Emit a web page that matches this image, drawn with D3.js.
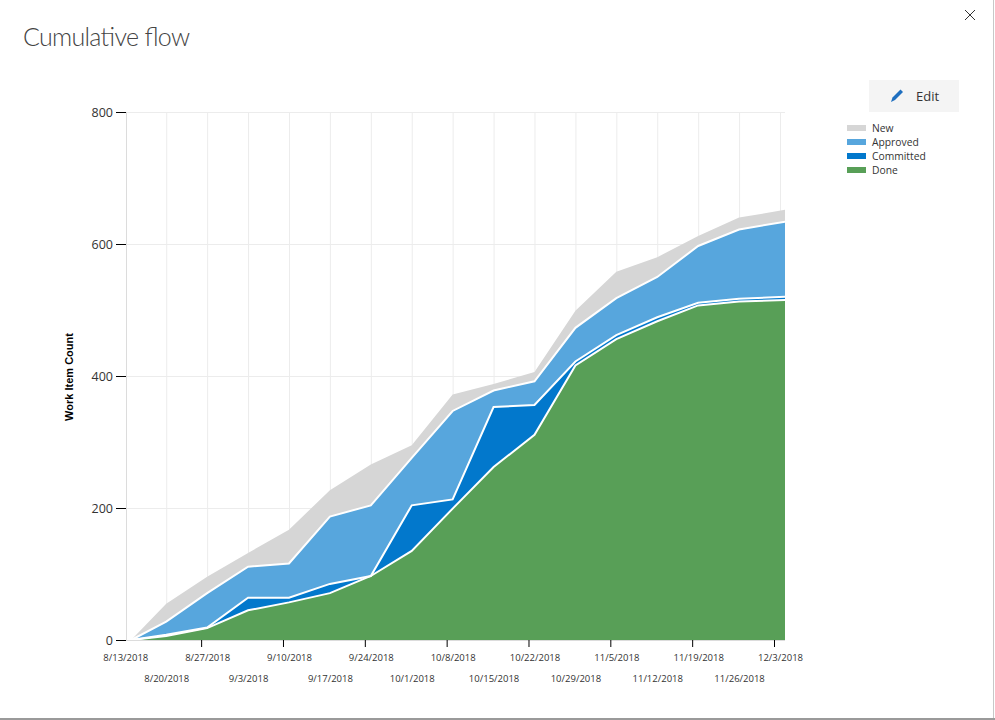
<!DOCTYPE html>
<html>
<head>
<meta charset="utf-8">
<script src="https://cdn.jsdelivr.net/npm/d3@7/dist/d3.min.js"></script>
<style>
html,body{margin:0;padding:0;background:#fff;overflow:hidden}
svg{display:block;font-family:"Open Sans","Noto Sans",sans-serif}
</style>
</head>
<body>
<svg id="c" width="995" height="720"></svg>
<script>
const tickLabels = ["8/13/2018","8/20/2018","8/27/2018","9/3/2018","9/10/2018","9/17/2018","9/24/2018","10/1/2018","10/8/2018","10/15/2018","10/22/2018","10/29/2018","11/5/2018","11/12/2018","11/19/2018","11/26/2018","12/3/2018"];
const yTicks = [0,200,400,600,800];
const dates = ["8/14/2018","8/20/2018","8/27/2018","9/3/2018","9/10/2018","9/17/2018","9/24/2018","10/1/2018","10/8/2018","10/15/2018","10/22/2018","10/29/2018","11/5/2018","11/12/2018","11/19/2018","11/26/2018","12/4/2018"];
const newItems  = [0,27,25,21,51,40,62,19,25,10,14,26,40,30,15,18,18];
const approved  = [0,20,52,47,52,102,107,72,134,25,36,51,56,61,86,105,114];
const committed = [0,2,1,19,7,14,0,69,14,91,45,6,6,6,4,4,5];
const done      = [0,6,18,45,57,71,97,135,199,262,311,416,456,483,507,513,515];
const legendNames = ["New","Approved","Committed","Done"];
const colors = {New:"#d6d6d6",Approved:"#57a6dd",Committed:"#0278cc",Done:"#589f57"};

const parse = d3.utcParse("%m/%d/%Y");
const rows = dates.map((d,i)=>({date:parse(d),New:newItems[i],Approved:approved[i],Committed:committed[i],Done:done[i]}));
const svg = d3.select("#c");
const L=126, R=785, T=112, B=640;
const x = d3.scaleUtc().domain([parse("8/13/2018"),parse("12/3/2018")]).range([L-0.7,780]);
const y = d3.scaleLinear().domain([0,800]).range([B,T]);
const tickDates = tickLabels.map(parse);

// frame
svg.append("rect").attr("x",993).attr("y",0).attr("width",1).attr("height",720).attr("fill","#c8c8c8");
svg.append("rect").attr("x",0).attr("y",718).attr("width",995).attr("height",2).attr("fill","#9a9a9a");

// title
svg.append("text").attr("x",23).attr("y",46).attr("font-size",25).attr("font-weight",300)
  .attr("font-family","Lato,'Open Sans',sans-serif").attr("fill","#444").attr("textLength",167).text("Cumulative flow");

// close
const cl = svg.append("g").attr("stroke","#333").attr("stroke-width",1).attr("fill","none");
cl.append("path").attr("d","M965 10L975 20M975 10L965 20");

// edit button
svg.append("rect").attr("x",869).attr("y",80).attr("width",90).attr("height",32).attr("fill","#f4f4f4");
svg.append("path").attr("d","M891 102L892.5 97.5L900.5 89.5L903 92L895 100Z").attr("fill","#1f6fbf");
svg.append("text").attr("x",916).attr("y",101).attr("font-size",13).attr("fill","#333").text("Edit");

// grid
const grid = svg.append("g");
grid.append("g").attr("transform",`translate(0,${T})`)
  .call(d3.axisBottom(x).tickValues(tickDates.slice(1)).tickSize(B-T).tickFormat(""))
  .call(g=>g.select(".domain").remove())
  .call(g=>g.selectAll("line").attr("stroke","#ececec"));
grid.append("g").attr("transform",`translate(${L},0)`)
  .call(d3.axisRight(y).tickValues(yTicks.slice(1)).tickSize(R-L).tickFormat(""))
  .call(g=>g.select(".domain").remove())
  .call(g=>g.selectAll("line").attr("stroke","#ececec"));

// areas
svg.append("clipPath").attr("id","plot").append("rect").attr("x",L).attr("y",T).attr("width",R-L).attr("height",B-T+1);
const stack = d3.stack().keys(["Done","Committed","Approved","New"])(rows);
const area = d3.area().x(d=>x(d.data.date)).y0(d=>y(d[0])).y1(d=>y(d[1]));
const topLine = d3.line().x(d=>x(d.data.date)).y(d=>y(d[1]));
const plot = svg.append("g").attr("clip-path","url(#plot)");
stack.slice().reverse().forEach(s=>{
  plot.append("path").datum(s).attr("d",area).attr("fill",colors[s.key]);
});
stack.slice().reverse().forEach(s=>{
  if(s.key==="New") return;
  plot.append("path").datum(s).attr("d",topLine).attr("fill","none").attr("stroke","#fff").attr("stroke-width",2);
});

// axis frame lines
svg.append("line").attr("x1",L+0.5).attr("x2",L+0.5).attr("y1",T).attr("y2",B+0.5).attr("stroke","#dcdcdc");
svg.append("line").attr("x1",L).attr("x2",R).attr("y1",B+0.5).attr("y2",B+0.5).attr("stroke","#dcdcdc");

// y axis
svg.append("g").attr("transform",`translate(${L},0)`)
  .call(d3.axisLeft(y).tickValues(yTicks).tickSize(10).tickPadding(3).tickFormat(d3.format("d")))
  .call(g=>g.select(".domain").remove())
  .call(g=>g.selectAll("line").attr("stroke","#000"))
  .call(g=>g.selectAll("text").attr("font-size",12.5).attr("font-family","'Open Sans',sans-serif").attr("fill","#333"));

// x axis ticks (offset from the labels, as in the source)
svg.append("g").attr("transform",`translate(-6,${B})`)
  .call(d3.axisBottom(x).tickValues(tickDates.filter((d,i)=>i%2===0&&i>0)).tickSize(7).tickFormat(""))
  .call(g=>g.select(".domain").remove())
  .call(g=>g.selectAll("line").attr("stroke","#000"));

// x axis labels in two rows
svg.append("g").attr("transform",`translate(0,${B})`)
  .call(d3.axisBottom(x).tickValues(tickDates).tickSize(0).tickFormat(d=>tickLabels[tickDates.indexOf(d)]))
  .call(g=>g.select(".domain").remove())
  .call(g=>g.selectAll("text")
    .attr("font-size",9.5).attr("font-family","'Open Sans',sans-serif").attr("fill","#333")
    .attr("y",(d,i)=>i%2===0?14:35));

// y title
svg.append("text").attr("transform","translate(73,377) rotate(-90)").attr("text-anchor","middle")
  .attr("font-family","'Liberation Sans',Arial,sans-serif").attr("font-weight","bold").attr("font-size",11).attr("fill","#000")
  .text("Work Item Count");

// legend
const lg = svg.append("g").selectAll("g").data(legendNames).join("g")
  .attr("transform",(d,i)=>`translate(847,${128+i*14})`);
lg.append("rect").attr("x",0).attr("y",-3).attr("width",19).attr("height",6).attr("fill",d=>colors[d]);
lg.append("text").attr("x",25).attr("y",4).attr("font-size",10.3).attr("font-family","'Open Sans',sans-serif").attr("fill","#333").text(d=>d);
</script>
</body>
</html>
